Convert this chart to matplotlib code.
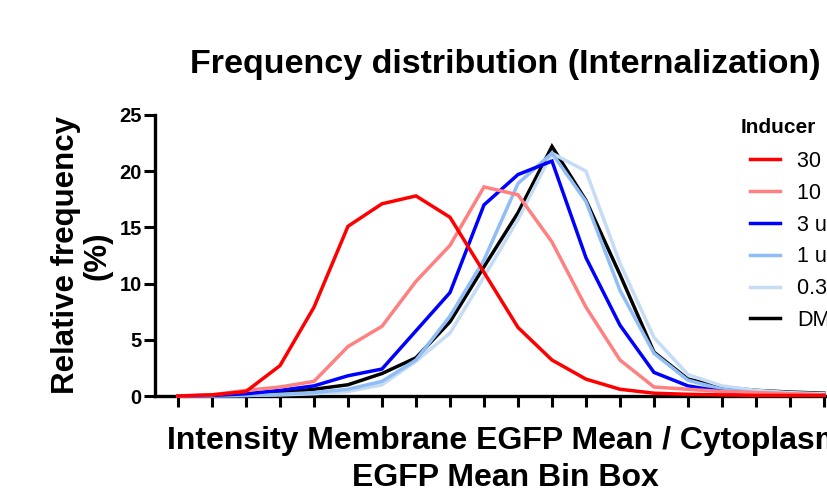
import numpy as np
import matplotlib
matplotlib.use("Agg")
import matplotlib.pyplot as plt

plt.rcParams["font.family"] = ["Liberation Sans", "DejaVu Sans"]

# bin index (x) and relative frequency (%) per inducer concentration
bins = np.arange(1, 21)
labels = ["30 uM", "10 uM", "3 uM", "1 uM", "0.3 uM", "DMSO"]
colors = ["#ff0000", "#ff8080", "#0000ff", "#90bdf6", "#c6dcf5", "#000000"]

freq_30 = [0, 0.1, 0.4, 2.7, 7.9, 15.1, 17.1, 17.8, 15.9, 11.0,
           6.1, 3.2, 1.5, 0.6, 0.25, 0.15, 0.1, 0.05, 0.05, 0.05]
freq_10 = [0, 0.1, 0.5, 0.8, 1.3, 4.4, 6.2, 10.2, 13.4, 18.6,
           17.9, 13.7, 7.9, 3.2, 0.8, 0.6, 0.4, 0.3, 0.2, 0.1]
freq_3 = [0, 0.05, 0.2, 0.5, 0.9, 1.8, 2.4, 5.8, 9.2, 17.0,
          19.7, 20.9, 12.3, 6.3, 2.1, 0.9, 0.4, 0.2, 0.1, 0.1]
freq_1 = [0, 0.02, 0.05, 0.15, 0.3, 0.6, 1.3, 3.2, 7.1, 12.1,
          18.9, 21.6, 17.3, 9.4, 3.8, 1.4, 0.6, 0.3, 0.2, 0.1]
freq_03 = [0, 0.02, 0.05, 0.1, 0.2, 0.4, 1.0, 3.1, 5.6, 10.6,
           15.7, 21.6, 20.0, 11.8, 5.2, 1.9, 0.9, 0.5, 0.3, 0.2]
freq_dmso = [0, 0.05, 0.1, 0.3, 0.6, 1.0, 2.0, 3.4, 6.6, 11.5,
             16.3, 22.2, 17.4, 10.8, 3.9, 1.5, 0.8, 0.5, 0.35, 0.25]
series = [freq_30, freq_10, freq_3, freq_1, freq_03, freq_dmso]

fig = plt.figure(figsize=(8.28, 4.95), dpi=100)
ax = fig.add_axes([0.1872, 0.2, 0.8357, 0.5677])

handles = []
for i, (lab, col, ys) in enumerate(zip(labels, colors, series)):
    h, = ax.plot(bins, ys, color=col, lw=2.5, label=lab,
                 zorder=10 - i, clip_on=False, solid_joinstyle="miter")
    handles.append(h)

ax.set_xlim(1 - 0.676, 20 + 0.676)
ax.set_ylim(0, 25)
ax.set_xticks(bins)
ax.set_xticklabels([])
ax.set_yticks([0, 5, 10, 15, 20, 25])
for s in ["top", "right"]:
    ax.spines[s].set_visible(False)
for s in ["left", "bottom"]:
    ax.spines[s].set_linewidth(2.4)
ax.tick_params(axis="both", length=8, width=2.2, pad=1.5)
for t in ax.get_yticklabels():
    t.set_fontsize(14.5)
    t.set_fontweight("bold")

fig.text(505 / 828, (495 - 73) / 495, "Frequency distribution (Internalization)",
         fontsize=24.5, fontweight="bold", ha="center", va="baseline")

ax.set_xlabel("Intensity Membrane EGFP Mean / Cytoplasm\nEGFP Mean Bin Box",
              fontsize=23, fontweight="bold", linespacing=1.3)
ax.xaxis.set_label_coords(505 / 828, (495 - 486) / 495, transform=fig.transFigure)
ax.xaxis.label.set_va("baseline")

ax.set_ylabel("Relative frequency\n(%)", fontsize=22.5, fontweight="bold",
              linespacing=1.1)
ax.yaxis.set_label_coords(113 / 828, (495 - 255.5) / 495, transform=fig.transFigure)

fig.text(741 / 828, (495 - 133) / 495, "Inducer", fontsize=15,
         fontweight="bold", va="baseline", ha="left")
fig.legend(handles=handles, loc="upper left",
           bbox_to_anchor=(750 / 828, (495 - 151) / 495),
           frameon=False, fontsize=15.5, handlelength=1.4,
           handletextpad=0.8, labelspacing=0.5, borderpad=0,
           borderaxespad=0)

fig.savefig("out.png", dpi=100)
